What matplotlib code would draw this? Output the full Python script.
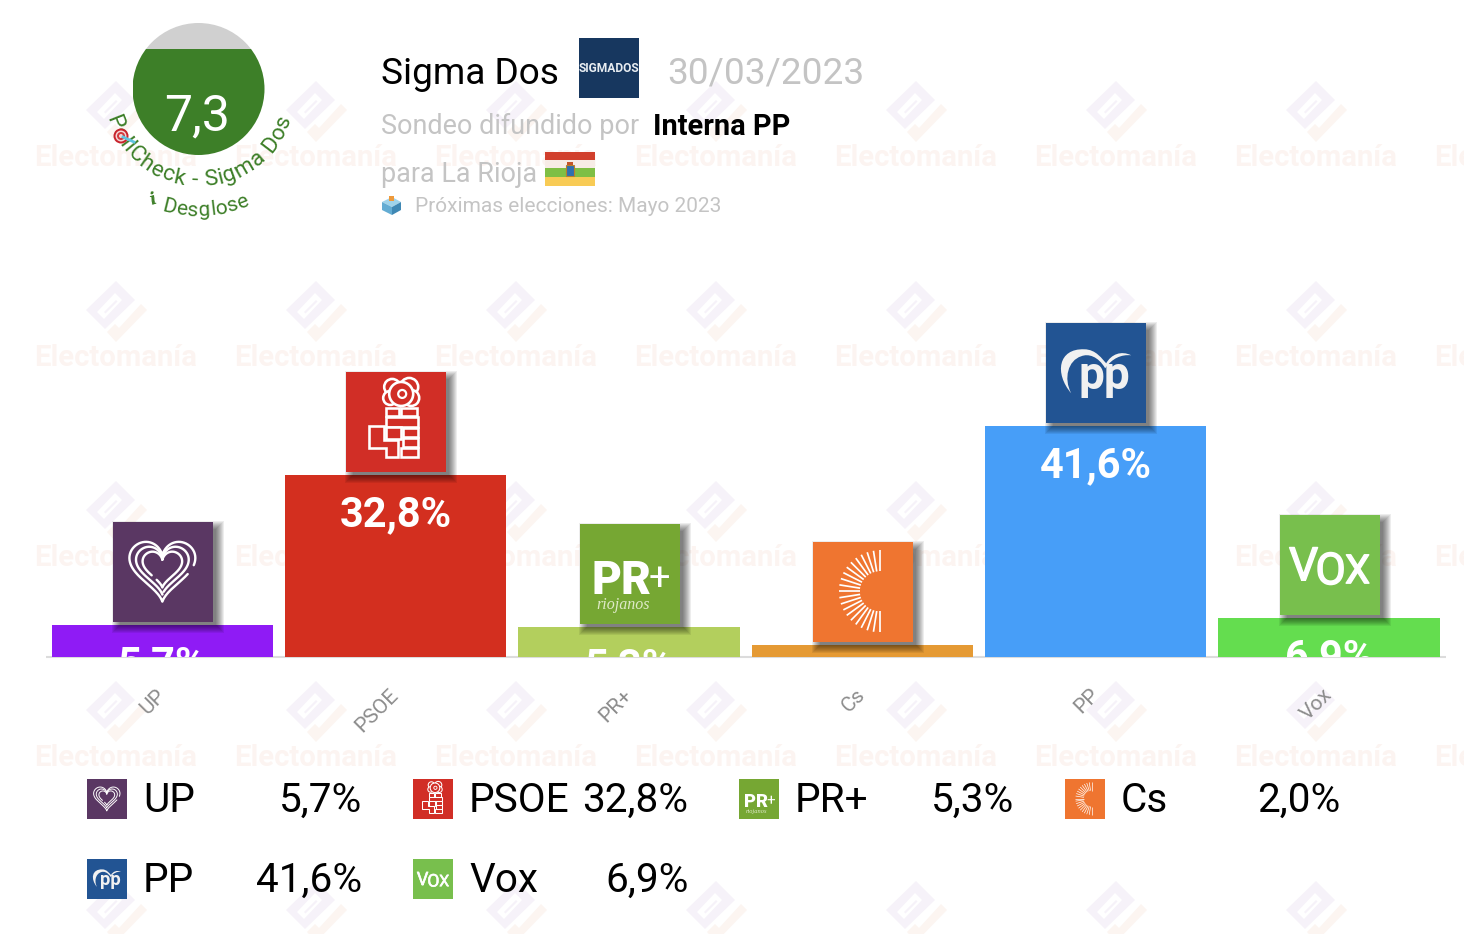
#!/usr/bin/env python3
"""Sondeo Sigma Dos para La Rioja: barras, logos y marca de agua"""

import numpy as np
import matplotlib
matplotlib.use('Agg')
import matplotlib.pyplot as plt
import matplotlib.patheffects as pe
from matplotlib.patches import Rectangle, Circle, Polygon, PathPatch
from matplotlib.path import Path
from matplotlib.textpath import TextPath
from matplotlib.font_manager import FontProperties
from matplotlib.transforms import offset_copy

plt.rcParams['font.family'] = ['Roboto', 'DejaVu Sans']

# Datos
partidos = ['UP', 'PSOE', 'PR+', 'Cs', 'PP', 'Vox']
valores = [5.7, 32.8, 5.3, 2.0, 41.6, 6.9]
colores_barra = ['#8f1bf5', '#d32f1f', '#b3cf5d', '#e59a34', '#479ef8', '#64dd4f']
colores_logo = ['#5a3763', '#d12e26', '#76a733', '#ef7530', '#225493', '#78bf4d']
puntuacion = '7,3'
encuestadora = 'Sigma Dos'
fecha = '30/03/2023'
promotor = 'Interna PP'
elecciones = 'Próximas elecciones: Mayo 2023'

W, H = 1464, 934
VERDE = '#3d7f28'
GRIS = '#c4c4c4'


def etiqueta(v):
    return f'{v:.1f}'.replace('.', ',') + '%'


def fs(px):
    # tamano de fuente en puntos a partir de pixeles (dpi=100)
    return px * 0.72


fig = plt.figure(figsize=(W / 100, H / 100), dpi=100, facecolor='white')


def capa_px(z):
    a = fig.add_axes([0, 0, 1, 1], zorder=z)
    a.set_xlim(0, W)
    a.set_ylim(H, 0)
    a.axis('off')
    a.patch.set_alpha(0)
    return a


bg = capa_px(0)
fg = capa_px(2)

# ---------------- marca de agua ----------------
C_MORADO = '#f6f2f9'
C_NARANJA = '#fcf5f1'
for cx in range(116, 1600, 200):
    for cy in range(110, 1000, 200):
        formas = [([(-30, 0), (0, -29), (19, -10), (-11, 19)], C_MORADO),
                  ([(-19, 2), (-1, -17), (6, -10), (-12, 9)], 'white'),
                  ([(-12, 2), (0, -10), (1.5, -8.5), (-10.5, 3.5)], C_MORADO),
                  ([(25, -6), (31, 0), (0, 32), (-9, 22), (-1, 14), (3, 18)], C_NARANJA)]
        for poly, c in formas:
            bg.add_patch(Polygon([(cx + a, cy + b) for a, b in poly], fc=c, ec='none'))
        if cy + 55 < H:
            bg.text(cx, cy + 56, 'Electomanía', fontsize=fs(29.3), fontweight='bold',
                    color='#fcf4f1', ha='center', va='baseline')

# ---------------- barras ----------------
px_por_punto = 5.53
base = -0.12  # el cero queda un pixel por encima de la linea base
alto_ejes = (60 - base) * px_por_punto
ax = fig.add_axes([45.7 / W, (H - 657) / H, 1400 / W, alto_ejes / H], zorder=1)
ax.patch.set_alpha(0)
x = np.arange(len(partidos))
ax.bar(x, np.array(valores) - base, bottom=base, width=0.948, color=colores_barra, linewidth=0)
ax.set_xlim(-0.5, 5.5)
ax.set_ylim(base, 60)
ax.set_yticks([])
for lado in ['top', 'left', 'right']:
    ax.spines[lado].set_visible(False)
ax.spines['bottom'].set_color('#dcdcdc')
ax.spines['bottom'].set_linewidth(1.5)
ax.spines['bottom'].set_capstyle('butt')
ax.spines['bottom'].set_zorder(0.5)
ax.set_xticks(x)
ax.set_xticklabels(partidos, rotation=45, ha='right', va='center', rotation_mode='anchor',
                   fontsize=fs(21), color='#8c8c8c')
ax.tick_params(axis='x', length=0, pad=25)

trans_etq = offset_copy(ax.transData, fig=fig, y=-51, units='dots')
for xi, v in zip(x, valores):
    ax.text(xi, v, etiqueta(v), transform=trans_etq, color='white', fontsize=fs(41.5),
            fontweight='bold', ha='center', va='baseline', clip_on=True)


# ---------------- logos ----------------
def contorno_corazon():
    t = np.linspace(0, 2 * np.pi, 240, endpoint=False)
    hx = 16 * np.sin(t) ** 3
    hy = 13 * np.cos(t) - 5 * np.cos(2 * t) - 2 * np.cos(3 * t) - np.cos(4 * t)
    nucleo = np.ones(15) / 15
    hx = np.convolve(np.r_[hx[-7:], hx, hx[:7]], nucleo, mode='valid')
    hy = np.convolve(np.r_[hy[-7:], hy, hy[:7]], nucleo, mode='valid')
    return hx, hy


def logo(nombre, color, x0, y0, size):
    s = size / 100.0

    def u(a, b):
        return x0 + a * s, y0 + b * s

    def lw(v):
        return v * s * 0.72

    fg.add_patch(Rectangle((x0, y0), size, size, fc=color, ec='none', zorder=3))
    kw = dict(color='white', zorder=4, solid_capstyle='round')

    if nombre == 'UP':
        hx, hy = contorno_corazon()
        for k, e in enumerate([2.1, 1.68, 1.26]):
            m = np.ones_like(hx, dtype=bool)
            m[(68 + k * 40):(76 + k * 40)] = False
            xx, yy = u(49.5 + e * hx, 47 - e * hy - 2.5)
            fg.plot(np.where(m, xx, np.nan), np.where(m, yy, np.nan), lw=lw(2.4), **kw)
    elif nombre == 'PSOE':
        for a, b, r in [(46, 15, 8), (63, 15, 9), (44, 26, 7), (65, 26, 8), (55, 22, 12)]:
            cx, cy = u(a, b)
            fg.add_patch(Circle((cx, cy), r * s, fc=color, ec='white', lw=lw(2.6), zorder=4))
        cx, cy = u(56, 22)
        fg.add_patch(Circle((cx, cy), 4 * s, fc=color, ec='white', lw=lw(2.2), zorder=4))
        for a, b, w, h in [(40, 36, 13, 8), (55, 36, 16, 8), (40, 45, 32, 10), (57, 56, 15, 9),
                           (57, 66, 15, 9), (55, 76, 17, 9), (40, 55, 15, 12)]:
            fg.add_patch(Rectangle(u(a, b), w * s, h * s, fc=color, ec='white', lw=lw(2.6), zorder=4))
        pul = [(23, 54), (38, 54), (38, 68), (52, 68), (52, 85), (40, 85), (40, 76), (23, 76)]
        fg.add_patch(Polygon([u(a, b) for a, b in pul], fc=color, ec='white', lw=lw(2.6), zorder=4))
    elif nombre == 'PR+':
        a, b = u(42, 70)
        fg.text(a, b, 'PR', color='white', fontsize=fs(46 * s), fontweight='black',
                ha='center', va='baseline', zorder=4)
        a, b = u(80, 66)
        fg.text(a, b, '+', color='white', fontsize=fs(38 * s), ha='center', va='baseline', zorder=4)
        a, b = u(44, 85)
        fg.text(a, b, 'riojanos', color='#dfeac8', fontsize=fs(16 * s), style='italic',
                family='Liberation Serif', ha='center', va='baseline', zorder=4)
    elif nombre == 'Cs':
        for ang in np.linspace(np.pi / 2, 3 * np.pi / 2, 21):
            x1, y1 = u(67 + 20 * np.cos(ang), 49 - 20 * np.sin(ang))
            x2, y2 = u(67 + 41 * np.cos(ang), 49 - 41 * np.sin(ang))
            fg.plot([x1, x2], [y1, y2], lw=lw(1.7), color='white', zorder=4, solid_capstyle='butt')
    elif nombre == 'PP':
        a, b = u(58, 66)
        fg.text(a, b, 'pp', color='#f1f1f1', fontsize=fs(46 * s), fontweight='bold',
                ha='center', va='baseline', zorder=4)
        v = [(25, 70), (8, 50), (12, 25), (38, 26), (50, 26), (56, 36), (60, 40), (65, 31),
             (75, 27), (85, 32), (75, 31), (66, 35), (59, 45), (52, 33), (42, 30), (35, 33),
             (22, 37), (17, 55), (25, 70)]
        cod = [Path.MOVETO] + [Path.CURVE4] * 18
        fg.add_patch(PathPatch(Path([u(*p) for p in v], cod), fc='#f1f1f1', ec='none', zorder=4))
    elif nombre == 'Vox':
        for letra, xl, yl, px_l in [('V', 24, 65, 46), ('O', 51, 69, 44), ('X', 78, 68, 40)]:
            a, b = u(xl, yl)
            fg.text(a, b, letra, color='white', fontsize=fs(px_l * s), ha='center', va='baseline',
                    zorder=4, path_effects=[pe.withStroke(linewidth=lw(1.4), foreground='white')])


def sombra(x0, y0, size):
    for g in range(6, -3, -1):
        fg.add_patch(Rectangle((x0 + 5 - g, y0 + 5 - g), size + 2 * g, size + 2 * g,
                               fc='black', ec='none', alpha=0.07, zorder=2))


for xi, v, nom, col in zip(x, valores, partidos, colores_logo):
    px, py = ax.transData.transform((xi, v))
    y_barra = H - py
    sombra(px - 49.5, y_barra - 103, 100)
    logo(nom, col, px - 49.5, y_barra - 103, 100)

# ---------------- leyenda ----------------
col_x = [87, 413, 739, 1065]
fila_y = [779, 859]
for i, (nom, v, col) in enumerate(zip(partidos, valores, colores_logo)):
    cx = col_x[i % 4]
    cy = fila_y[i // 4]
    logo(nom, col, cx, cy, 40)
    fg.text(cx + 56, cy + 33, nom, fontsize=fs(40.5), color='black', va='baseline')
    fg.text(cx + 275.5, cy + 33, etiqueta(v), fontsize=fs(40.5), color='black', ha='right', va='baseline')

# ---------------- cabecera ----------------
fg.text(381, 84, encuestadora, fontsize=fs(37), color='black', va='baseline')
fg.add_patch(Rectangle((579, 38), 60, 60, fc='#17375f', ec='none'))
fg.text(609, 72, 'SIGMADOS', fontsize=fs(12), color='#e8edf2', fontweight='bold',
        ha='center', va='baseline')
fg.text(667.5, 84, fecha, fontsize=fs(37), color=GRIS, va='baseline')
fg.text(381, 134, 'Sondeo difundido por', fontsize=fs(27), color=GRIS, va='baseline')
fg.text(653, 135, promotor, fontsize=fs(29), color='black', fontweight='bold', va='baseline')
fg.text(381, 182, 'para La Rioja', fontsize=fs(27), color=GRIS, va='baseline')
fg.text(415, 212, elecciones, fontsize=fs(20.9), color=GRIS, va='baseline')

# bandera de La Rioja
for y0, h, c in [(152, 8, '#d13f2c'), (160, 8, '#f7ece6'), (168, 9, '#7fbf45'), (177, 9, '#f8cb55')]:
    fg.add_patch(Rectangle((545, y0), 50, h, fc=c, ec='none'))
fg.add_patch(Rectangle((566, 165), 8, 11, fc='#2f6fb0', ec='#b9802c', lw=0.8))
fg.add_patch(Rectangle((567, 162), 6, 3, fc='#c4552a', ec='none'))

# urna
fg.add_patch(Polygon([(382, 202), (392, 197), (401, 202), (392, 207)], fc='#9fd3ea', ec='none'))
fg.add_patch(Polygon([(382, 202), (392, 207), (392, 215), (382, 210)], fc='#63acd3', ec='none'))
fg.add_patch(Polygon([(392, 207), (401, 202), (401, 210), (392, 215)], fc='#3f88b4', ec='none'))
fg.add_patch(Rectangle((389, 196), 5, 5, fc='#ee9a3c', ec='none'))

# circulo de puntuacion
cc = (198.5, 89)
rc = 66
circ = Circle(cc, rc, transform=fg.transData, fc='none', ec='none')
fg.add_patch(circ)
gris_c = Rectangle((cc[0] - rc, cc[1] - rc), 2 * rc, 25.5, fc='#d0d0d0', ec='none')
verde_c = Rectangle((cc[0] - rc, cc[1] - rc + 25.5), 2 * rc, 2 * rc - 25.5, fc=VERDE, ec='none')
for r in (gris_c, verde_c):
    fg.add_patch(r)
    r.set_clip_path(circ)
fg.text(cc[0] - 1, 130.5, puntuacion, fontsize=fs(50), color='white', ha='center', va='baseline', zorder=5)


def texto_curvo(texto, radio, px_fuente, color, desplaza=0, espacio=0):
    prop = FontProperties(family='Roboto', size=px_fuente)
    ancho_barra = TextPath((0, 0), '|', prop=prop).get_extents().x1
    pos = [0.0]
    for i in range(1, len(texto) + 1):
        pos.append(TextPath((0, 0), texto[:i] + '|', prop=prop).get_extents().x1 - ancho_barra + i * espacio)
    total = pos[-1]
    for i, c in enumerate(texto):
        if c == ' ':
            continue
        s = (pos[i] + pos[i + 1]) / 2 - total / 2 + desplaza
        th = s / radio
        fg.text(cc[0] + radio * np.sin(th), cc[1] + radio * np.cos(th), c,
                fontsize=fs(px_fuente), color=color, rotation=np.degrees(th),
                rotation_mode='anchor', ha='center', va='baseline', zorder=6)


texto_curvo('PollCheck - Sigma Dos', 97, 22.5, VERDE, espacio=1.0)
texto_curvo('Desglose', 127, 21, VERDE, desplaza=8, espacio=0.6)
fg.text(155, 204, 'i', fontsize=fs(17), color=VERDE, family='DejaVu Serif', fontweight='bold',
        style='italic', rotation=18, rotation_mode='anchor', ha='center', va='baseline', zorder=6)

# diana
for r, c in [(7.5, '#c8232c'), (5.5, '#f3d6d6'), (4, '#d33a3f'), (2, '#f3d6d6')]:
    fg.add_patch(Circle((121, 136), r, fc=c, ec='none', zorder=7))
fg.plot([123, 134], [137, 142], color='#5fc3e0', lw=2, zorder=7)

fig.savefig('out.png', dpi=100)
